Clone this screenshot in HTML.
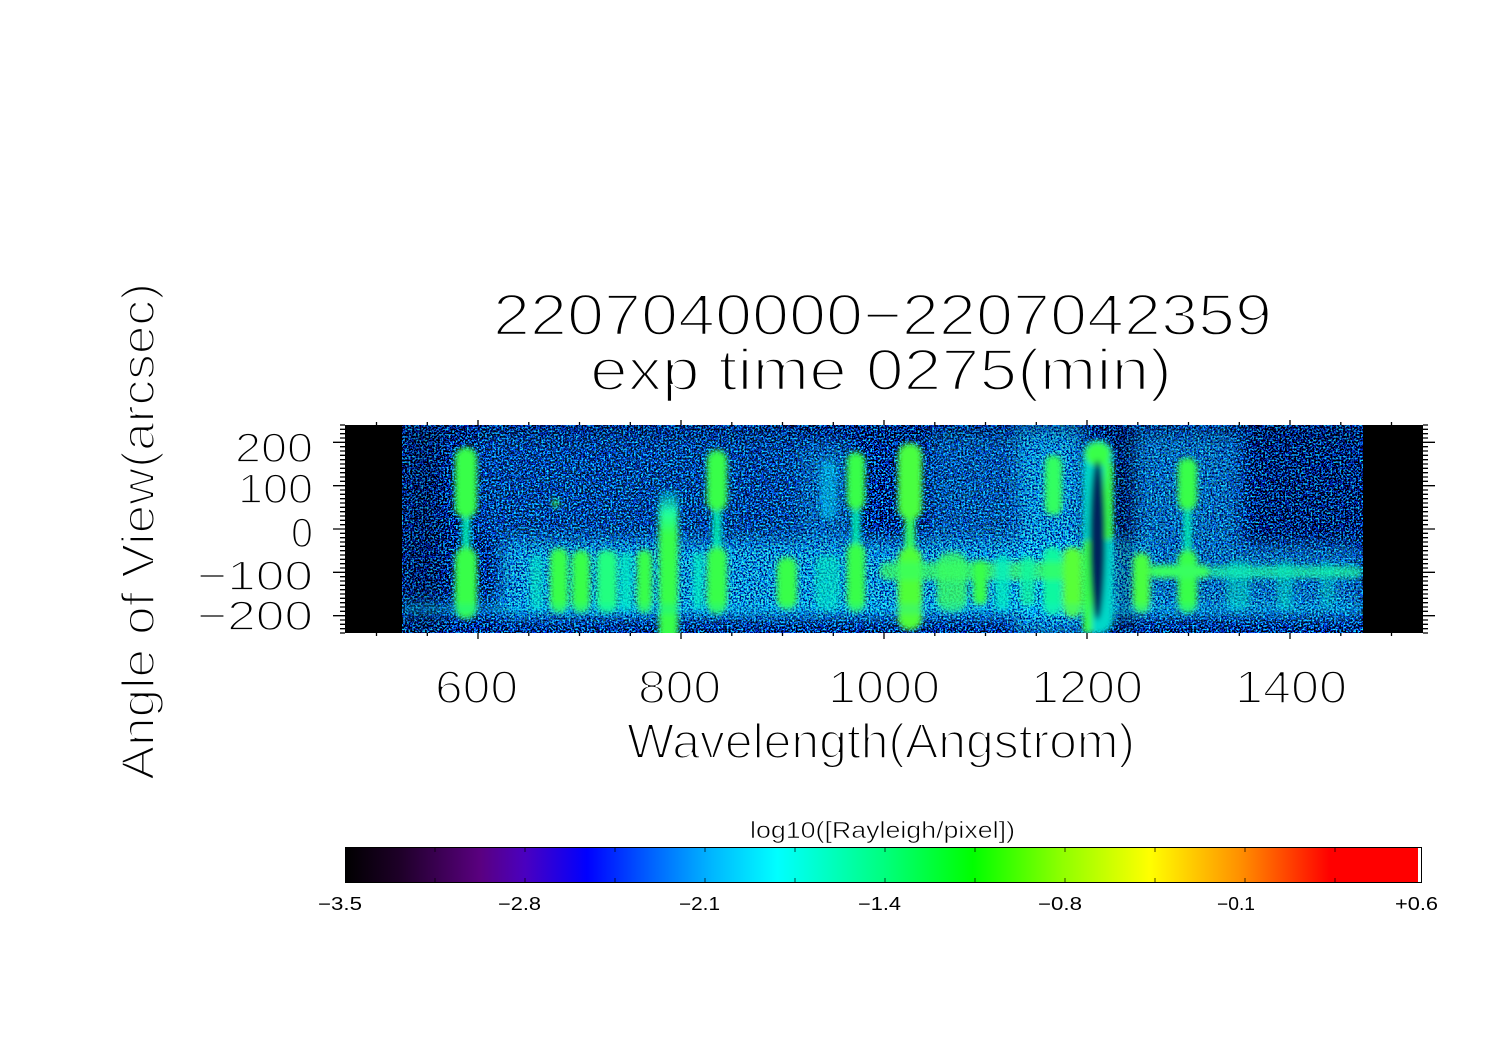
<!DOCTYPE html>
<html><head><meta charset="utf-8"><style>
html,body{margin:0;padding:0;background:#fff;}
svg{display:block;}
text{font-family:"Liberation Sans",sans-serif;fill:#000;stroke:#fff;}
</style></head><body>
<svg xmlns="http://www.w3.org/2000/svg" width="1497" height="1058" viewBox="0 0 1497 1058">
<defs>
 <filter id="nzDark" filterUnits="userSpaceOnUse" x="402" y="425" width="961" height="208" color-interpolation-filters="sRGB">
  <feTurbulence type="fractalNoise" baseFrequency="0.55" numOctaves="2" seed="11"/>
  <feColorMatrix type="matrix" values="3.5 0 0 0 -1.45  3.5 0 0 0 -1.45  3.5 0 0 0 -1.45  0 0 0 0 1"/>
  <feComponentTransfer>
   <feFuncR type="discrete" tableValues="0 0 0 0 0 0 0 0.1"/>
   <feFuncG type="discrete" tableValues="0 0 0.05 0.2 0.35 0.5 0.7 0.95"/>
   <feFuncB type="discrete" tableValues="0 0.35 0.8 1 1 1 1 1"/>
  </feComponentTransfer>
 </filter>
 <filter id="nzLight" filterUnits="userSpaceOnUse" x="402" y="425" width="961" height="208" color-interpolation-filters="sRGB">
  <feTurbulence type="fractalNoise" baseFrequency="0.55" numOctaves="2" seed="23"/>
  <feColorMatrix type="matrix" values="3.5 0 0 0 -1.3  3.5 0 0 0 -1.3  3.5 0 0 0 -1.3  0 0 0 0 1"/>
  <feComponentTransfer>
   <feFuncR type="discrete" tableValues="0 0 0 0 0 0 0.1 0.3"/>
   <feFuncG type="discrete" tableValues="0.05 0.3 0.5 0.68 0.8 0.92 1 1"/>
   <feFuncB type="discrete" tableValues="0.4 1 1 1 1 1 1 0.9"/>
  </feComponentTransfer>
 </filter>
 <filter id="blur8" x="-20%" y="-20%" width="140%" height="140%"><feGaussianBlur stdDeviation="8"/></filter>
 <filter id="blur2" x="-20%" y="-20%" width="140%" height="140%"><feGaussianBlur stdDeviation="2.8"/></filter>
 <clipPath id="clipData"><rect x="402" y="425" width="961" height="208"/></clipPath>
 <mask id="mLight" maskUnits="userSpaceOnUse" x="402" y="425" width="961" height="208">
  <g filter="url(#blur8)" fill="#fff">
   <rect x="500" y="540" width="650" height="78" fill-opacity="0.85"/>
   <rect x="1150" y="545" width="212" height="73" fill-opacity="0.55"/>
   <rect x="1015" y="425" width="68" height="208" fill-opacity="0.8"/>
   <rect x="1133" y="430" width="107" height="115" fill-opacity="0.5"/>
   <rect x="800" y="440" width="50" height="100" fill-opacity="0.45"/>
   <rect x="930" y="430" width="80" height="115" fill-opacity="0.35"/>
   <rect x="480" y="430" width="320" height="110" fill-opacity="0.2"/>
   <rect x="402" y="600" width="961" height="16" fill-opacity="0.4"/>
  </g>
 </mask>
 <linearGradient id="vline" x1="0" y1="0" x2="0" y2="1">
  <stop offset="0" stop-color="#00e0e0" stop-opacity="0.3"/>
  <stop offset="0.15" stop-color="#20ffa0"/>
  <stop offset="0.3" stop-color="#38ff48"/>
  <stop offset="1" stop-color="#38ff48"/>
 </linearGradient>
 <linearGradient id="cbar" x1="0" y1="0" x2="1" y2="0">
  <stop offset="0" stop-color="#000000"/>
  <stop offset="0.051" stop-color="#1e0028"/>
  <stop offset="0.126" stop-color="#5a0080"/>
  <stop offset="0.168" stop-color="#4a00c0"/>
  <stop offset="0.2255" stop-color="#0000ff"/>
  <stop offset="0.284" stop-color="#0060ff"/>
  <stop offset="0.343" stop-color="#00b8ff"/>
  <stop offset="0.403" stop-color="#00ffff"/>
  <stop offset="0.501" stop-color="#00ff80"/>
  <stop offset="0.585" stop-color="#00ff00"/>
  <stop offset="0.669" stop-color="#90ff00"/>
  <stop offset="0.750" stop-color="#ffff00"/>
  <stop offset="0.834" stop-color="#ff9000"/>
  <stop offset="0.918" stop-color="#ff0000"/>
  <stop offset="1" stop-color="#ff0000"/>
 </linearGradient>
</defs>

<rect x="0" y="0" width="1497" height="1058" fill="#fff"/>

<!-- image area -->
<rect x="345" y="425" width="1078" height="208" fill="#000"/>
<rect x="402" y="425" width="961" height="208" fill="#0030a0" filter="url(#nzDark)"/>
<rect x="402" y="425" width="961" height="208" fill="#00a0ff" filter="url(#nzLight)" mask="url(#mLight)"/>

<g clip-path="url(#clipData)">
 <g filter="url(#blur8)" fill="#000">
  <rect x="1117" y="425" width="16" height="208" fill-opacity="0.35"/>
  <rect x="402" y="425" width="40" height="208" fill-opacity="0.25"/>
  <rect x="402" y="420" width="961" height="18" fill-opacity="0.15"/>
  <rect x="1250" y="425" width="113" height="120" fill-opacity="0.15"/>
 </g>
 <g filter="url(#blur2)">
  <rect x="462" y="510" width="8" height="45" fill="#00f0b0"/>
  <rect x="455" y="447" width="22" height="71" rx="11" fill="#38ff48"/>
  <rect x="455" y="547" width="22" height="72" rx="11" fill="#38ff48"/>

  <rect x="713" y="505" width="8" height="48" fill="#00f0b0"/>
  <rect x="707" y="450" width="20" height="61" rx="10" fill="#38ff48"/>
  <rect x="707" y="547" width="20" height="67" rx="10" fill="#38ff48"/>

  <rect x="852" y="505" width="8" height="42" fill="#00f0b0"/>
  <rect x="847" y="452" width="18" height="58" rx="9" fill="#38ff48"/>
  <rect x="847" y="543" width="18" height="69" rx="9" fill="#38ff48"/>

  <rect x="905" y="512" width="10" height="40" fill="#30ff60"/>
  <rect x="898" y="443" width="24" height="77" rx="12" fill="#48ff40"/>
  <rect x="898" y="547" width="24" height="83" rx="12" fill="#50ff38"/>

  <rect x="1045" y="455" width="17" height="60" rx="8" fill="#30ff60"/>
  <rect x="1043" y="547" width="19" height="68" rx="9" fill="#10f8a0"/>

  <rect x="1184" y="505" width="7" height="50" fill="#00f0b0"/>
  <rect x="1178" y="458" width="19" height="52" rx="9" fill="#38ff48"/>
  <rect x="1178" y="550" width="19" height="63" rx="9" fill="#38ff48"/>

  <rect x="530" y="555" width="13" height="55" rx="6" fill="#00f0c0" opacity="0.6"/>
  <rect x="550" y="548" width="18" height="65" rx="9" fill="#38ff48"/>
  <rect x="553" y="500" width="5" height="7" fill="#38ff48"/>
  <rect x="572" y="550" width="18" height="63" rx="9" fill="#38ff48"/>
  <rect x="597" y="550" width="20" height="63" rx="9" fill="#20ff80"/>
  <rect x="620" y="552" width="12" height="60" rx="6" fill="#00f0c0" opacity="0.8"/>
  <rect x="637" y="550" width="15" height="63" rx="7" fill="#38ff48"/>
  <rect x="659" y="490" width="19" height="150" rx="6" fill="url(#vline)"/>
  <rect x="693" y="552" width="10" height="58" rx="5" fill="#00f0c0" opacity="0.8"/>
  <rect x="777" y="557" width="20" height="53" rx="10" fill="#38ff48"/>
  <rect x="815" y="555" width="25" height="55" rx="10" fill="#00f0c0" opacity="0.6"/>
  <rect x="820" y="460" width="17" height="60" rx="8" fill="#00e0ff" opacity="0.45"/>
  <rect x="880" y="562" width="200" height="18" rx="8" fill="#38ff60" opacity="0.75"/>
  <rect x="937" y="552" width="30" height="60" rx="12" fill="#38ff60" opacity="0.8"/>
  <rect x="973" y="560" width="14" height="45" rx="6" fill="#38ff48"/>
  <rect x="995" y="555" width="15" height="55" rx="6" fill="#00f0c0" opacity="0.8"/>
  <rect x="1020" y="556" width="15" height="50" rx="6" fill="#10f8a0" opacity="0.8"/>
  <rect x="1063" y="547" width="19" height="70" rx="9" fill="#58ff38"/>
  <rect x="1133" y="553" width="17" height="60" rx="8" fill="#48ff40"/>
  <rect x="1150" y="565" width="60" height="13" rx="6" fill="#38ff60"/>
  <rect x="1210" y="566" width="152" height="12" rx="6" fill="#20ffa0" opacity="0.7"/>
  <rect x="1227" y="560" width="23" height="50" rx="8" fill="#00f0c0" opacity="0.45"/>
  <rect x="1277" y="560" width="16" height="50" rx="8" fill="#00f0c0" opacity="0.45"/>
  <rect x="1320" y="562" width="14" height="45" rx="7" fill="#00f0c0" opacity="0.35"/>
  <rect x="402" y="604" width="961" height="10" fill="#00e0ff" opacity="0.2"/>

  <rect x="1083" y="440" width="30" height="194" rx="15" fill="#00d8c8"/>
  <rect x="1085" y="442" width="26" height="24" rx="12" fill="#38ff48"/>
  <rect x="1083" y="540" width="9" height="94" rx="4" fill="#38ff48"/>
  <rect x="1104" y="462" width="9" height="78" rx="4" fill="#38ff48"/>
  <ellipse cx="1097.5" cy="540" rx="8" ry="80" fill="#001050" opacity="0.9"/>
 </g>
</g>

<rect x="345" y="425" width="57" height="208" fill="#000"/>
<rect x="1363" y="425" width="60" height="208" fill="#000"/>

<g stroke="#000" stroke-width="1.3" fill="none">
<path d="M340 425H345M340 429.3H345M340 433.7H345M340 438H345M340 446.7H345M340 451H345M340 455.3H345M340 459.7H345M340 464H345M340 468.3H345M340 472.7H345M340 477H345M340 481.3H345M340 490H345M340 494.3H345M340 498.7H345M340 503H345M340 507.3H345M340 511.7H345M340 516H345M340 520.3H345M340 524.7H345M340 533.3H345M340 537.7H345M340 542H345M340 546.3H345M340 550.7H345M340 555H345M340 559.3H345M340 563.7H345M340 568H345M340 576.7H345M340 581H345M340 585.3H345M340 589.7H345M340 594H345M340 598.3H345M340 602.7H345M340 607H345M340 611.3H345M340 620H345M340 624.3H345M340 628.7H345M340 633H345"/>
<path d="M333 442.3H345M333 485.7H345M333 529H345M333 572.3H345M333 615.7H345"/>
<path d="M1423 425H1428M1423 429.3H1428M1423 433.7H1428M1423 438H1428M1423 446.7H1428M1423 451H1428M1423 455.3H1428M1423 459.7H1428M1423 464H1428M1423 468.3H1428M1423 472.7H1428M1423 477H1428M1423 481.3H1428M1423 490H1428M1423 494.3H1428M1423 498.7H1428M1423 503H1428M1423 507.3H1428M1423 511.7H1428M1423 516H1428M1423 520.3H1428M1423 524.7H1428M1423 533.3H1428M1423 537.7H1428M1423 542H1428M1423 546.3H1428M1423 550.7H1428M1423 555H1428M1423 559.3H1428M1423 563.7H1428M1423 568H1428M1423 576.7H1428M1423 581H1428M1423 585.3H1428M1423 589.7H1428M1423 594H1428M1423 598.3H1428M1423 602.7H1428M1423 607H1428M1423 611.3H1428M1423 620H1428M1423 624.3H1428M1423 628.7H1428M1423 633H1428"/>
<path d="M1423 442.3H1435M1423 485.7H1435M1423 529H1435M1423 572.3H1435M1423 615.7H1435"/>
<path d="M376.5 633V636M427.3 633V636M528.8 633V636M579.5 633V636M630.3 633V636M731.8 633V636M782.5 633V636M833.3 633V636M934.8 633V636M985.5 633V636M1036.3 633V636M1137.8 633V636M1188.5 633V636M1239.3 633V636M1340.8 633V636M1391.5 633V636"/>
<path d="M478 633V639M681 633V639M884 633V639M1087 633V639M1290 633V639"/>
<path d="M376.5 425V422M427.3 425V422M528.8 425V422M579.5 425V422M630.3 425V422M731.8 425V422M782.5 425V422M833.3 425V422M934.8 425V422M985.5 425V422M1036.3 425V422M1137.8 425V422M1188.5 425V422M1239.3 425V422M1340.8 425V422M1391.5 425V422"/>
<path d="M478 425V420M681 425V420M884 425V420M1087 425V420M1290 425V420"/>
</g>

<text x="493" y="335" font-size="58" stroke-width="2.4" textLength="779" lengthAdjust="spacingAndGlyphs">2207040000−2207042359</text>
<text x="590" y="390" font-size="58" stroke-width="2.4" textLength="582" lengthAdjust="spacingAndGlyphs">exp time 0275(min)</text>

<text x="235" y="462" font-size="42" stroke-width="1.8" textLength="78" lengthAdjust="spacingAndGlyphs">200</text>
<text x="238" y="503" font-size="42" stroke-width="1.8" textLength="75" lengthAdjust="spacingAndGlyphs">100</text>
<text x="291" y="547" font-size="42" stroke-width="1.8" textLength="22" lengthAdjust="spacingAndGlyphs">0</text>
<text x="197" y="590" font-size="42" stroke-width="1.8" textLength="116" lengthAdjust="spacingAndGlyphs">−100</text>
<text x="197" y="630" font-size="42" stroke-width="1.8" textLength="116" lengthAdjust="spacingAndGlyphs">−200</text>

<text transform="translate(154,780) rotate(-90)" x="0" y="0" font-size="46" stroke-width="2" textLength="497" lengthAdjust="spacingAndGlyphs">Angle of View(arcsec)</text>

<text x="435" y="703" font-size="46" stroke-width="2" textLength="83" lengthAdjust="spacingAndGlyphs">600</text>
<text x="638" y="703" font-size="46" stroke-width="2" textLength="83" lengthAdjust="spacingAndGlyphs">800</text>
<text x="828" y="703" font-size="46" stroke-width="2" textLength="112" lengthAdjust="spacingAndGlyphs">1000</text>
<text x="1031" y="703" font-size="46" stroke-width="2" textLength="112" lengthAdjust="spacingAndGlyphs">1200</text>
<text x="1235" y="703" font-size="46" stroke-width="2" textLength="112" lengthAdjust="spacingAndGlyphs">1400</text>

<text x="627" y="758" font-size="49" stroke-width="2" textLength="508" lengthAdjust="spacingAndGlyphs">Wavelength(Angstrom)</text>

<text x="750" y="838" font-size="23" stroke-width="0.6" textLength="265" lengthAdjust="spacingAndGlyphs">log10([Rayleigh/pixel])</text>
<rect x="345" y="847" width="1073" height="36" fill="url(#cbar)"/>
<rect x="1418" y="847" width="3.5" height="36" fill="#fff"/>
<rect x="345.5" y="847.5" width="1076" height="35" fill="none" stroke="#000" stroke-width="1"/>
<g stroke="#000" stroke-width="1" opacity="0.7">
<path d="M435 848V852M525 848V852M615 848V852M705 848V852M795 848V852M885 848V852M975 848V852M1065 848V852M1155 848V852M1245 848V852M1335 848V852"/>
<path d="M435 882V878M525 882V878M615 882V878M705 882V878M795 882V878M885 882V878M975 882V878M1065 882V878M1155 882V878M1245 882V878M1335 882V878"/>
</g>
<g stroke-width="0">
<text x="318" y="910" font-size="18" textLength="44" lengthAdjust="spacingAndGlyphs">−3.5</text>
<text x="498" y="910" font-size="18" textLength="43" lengthAdjust="spacingAndGlyphs">−2.8</text>
<text x="679" y="910" font-size="18" textLength="41" lengthAdjust="spacingAndGlyphs">−2.1</text>
<text x="858" y="910" font-size="18" textLength="43" lengthAdjust="spacingAndGlyphs">−1.4</text>
<text x="1038" y="910" font-size="18" textLength="44" lengthAdjust="spacingAndGlyphs">−0.8</text>
<text x="1217" y="910" font-size="18" textLength="38" lengthAdjust="spacingAndGlyphs">−0.1</text>
<text x="1395" y="910" font-size="18" textLength="43" lengthAdjust="spacingAndGlyphs">+0.6</text>
</g>
</svg>
</body></html>
